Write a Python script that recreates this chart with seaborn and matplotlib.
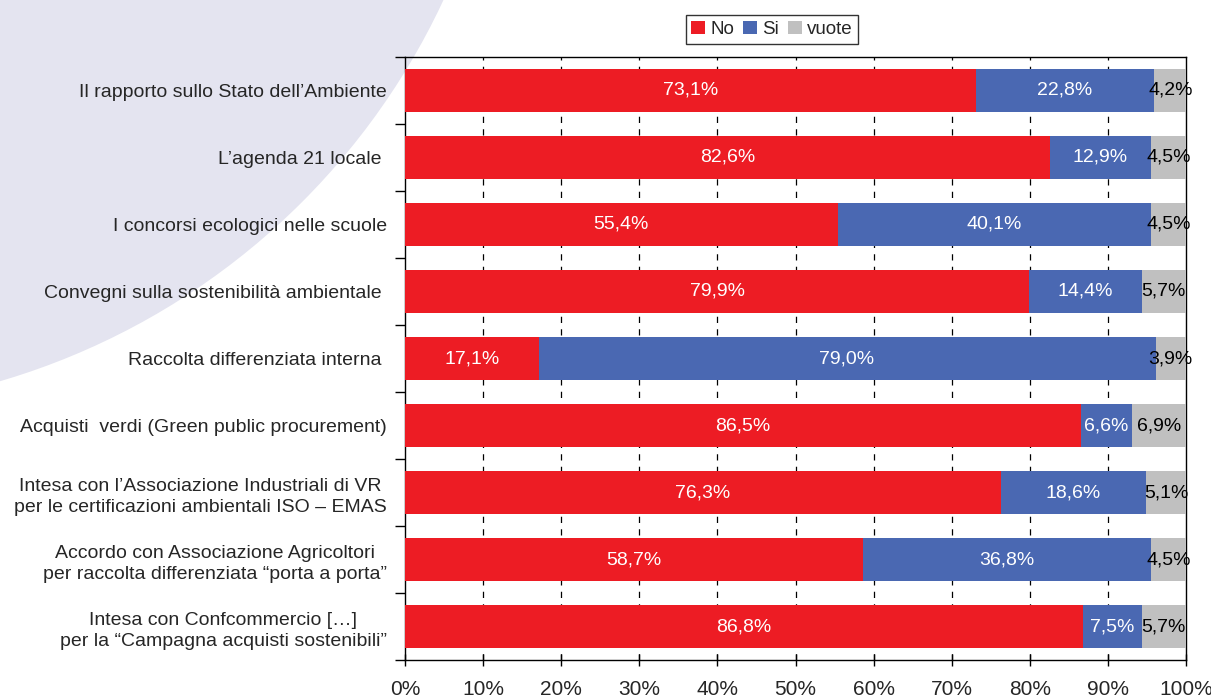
import matplotlib
matplotlib.use("Agg")
import matplotlib.pyplot as plt
from matplotlib.patches import Circle, Patch
from matplotlib.ticker import FixedLocator, FuncFormatter
import seaborn as sns
import numpy as np
import pandas as pd

categories = [
    "Il rapporto sullo Stato dell\u2019Ambiente",
    "L\u2019agenda 21 locale ",
    "I concorsi ecologici nelle scuole",
    "Convegni sulla sostenibilit\u00e0 ambientale ",
    "Raccolta differenziata interna ",
    "Acquisti  verdi (Green public procurement)",
    "Intesa con l\u2019Associazione Industriali di VR\nper le certificazioni ambientali ISO \u2013 EMAS",
    "Accordo con Associazione Agricoltori\nper raccolta differenziata \u201cporta a porta\u201d",
    "Intesa con Confcommercio [\u2026]\nper la \u201cCampagna acquisti sostenibili\u201d",
]
no_vals = [73.1, 82.6, 55.4, 79.9, 17.1, 86.5, 76.3, 58.7, 86.8]
si_vals = [22.8, 12.9, 40.1, 14.4, 79.0, 6.6, 18.6, 36.8, 7.5]
vuote_vals = [4.2, 4.5, 4.5, 5.7, 3.9, 6.9, 5.1, 4.5, 5.7]
series_names = ["No", "Si", "vuote"]
colors = {"No": "#ED1C24", "Si": "#4A68B2", "vuote": "#C0C0C0"}
xticks = [0, 10, 20, 30, 40, 50, 60, 70, 80, 90, 100]

sns.set_theme(style="white")
plt.rcParams["font.family"] = ["Liberation Sans", "DejaVu Sans"]

fig = plt.figure(figsize=(12.11, 7.0), dpi=100)
# decorative background circle (behind everything)
fig.patches.append(Circle((-2.0, 10.0), 7.1, transform=fig.dpi_scale_trans,
                          facecolor="#E4E4F0", edgecolor="none", zorder=-10))
ax = fig.add_axes([0.3344, 0.0571, 0.6450, 0.8615])
ax.set_zorder(1)
ax.set_facecolor("none")

df = pd.DataFrame({"cat": categories, "No": no_vals, "Si": si_vals, "vuote": vuote_vals})
df["c_no"] = df["No"]
df["c_si"] = df["No"] + df["Si"]
df["c_all"] = df["No"] + df["Si"] + df["vuote"]

for col, name in [("c_all", "vuote"), ("c_si", "Si"), ("c_no", "No")]:
    sns.barplot(data=df, y="cat", x=col, color=colors[name], orient="h",
                width=0.63, ax=ax, saturation=1, edgecolor="none", linewidth=0,
                zorder=3)

fmt = lambda v: f"{v:.1f}".replace(".", ",") + "%"
fs = 14
for i, r in df.iterrows():
    ax.text(r["No"] / 2, i, fmt(r["No"]), ha="center", va="center", color="white", fontsize=fs, zorder=5)
    ax.text(r["No"] + r["Si"] / 2, i, fmt(r["Si"]), ha="center", va="center", color="white", fontsize=fs, zorder=5)
    ax.text(r["c_si"] + r["vuote"] / 2, i, fmt(r["vuote"]), ha="center", va="center", color="black", fontsize=fs, zorder=5)

ax.set_xlim(0, 100)
ax.set_ylim(len(categories) - 0.5, -0.5)
ax.set_xlabel("")
ax.set_ylabel("")
ax.xaxis.set_major_locator(FixedLocator(xticks))
ax.xaxis.set_major_formatter(FuncFormatter(lambda v, p: f"{int(v)}%"))
ax.set_yticks(range(len(categories)))
ax.set_yticklabels(categories, linespacing=1.35, multialignment="center")
ax.yaxis.set_minor_locator(FixedLocator(np.arange(-0.5, len(categories), 1.0)))
ax.tick_params(axis="x", which="major", direction="inout", length=9, width=1, color="black",
               labelsize=15, pad=10, bottom=True)
ax.tick_params(axis="y", which="major", length=0, labelsize=14, pad=13, left=True)
ax.tick_params(axis="y", which="minor", direction="out", length=7, width=1, color="black", left=True)

for v in xticks[1:-1]:
    ax.axvline(v, color="black", linestyle=(0, (5, 5)), linewidth=0.9, zorder=1)

for s in ax.spines.values():
    s.set_visible(True)
    s.set_color("black")
    s.set_linewidth(1.0)
ax.grid(False)

handles = [Patch(facecolor=colors[n], edgecolor="none", label=n) for n in series_names]
leg = fig.legend(handles=handles, loc="center", bbox_to_anchor=(0.6375, 0.958), ncol=3,
                 fontsize=13.5, frameon=True, handlelength=0.75, handleheight=0.75,
                 handletextpad=0.25, columnspacing=0.5, borderpad=0.3, fancybox=False,
                 borderaxespad=0)
leg.get_frame().set_edgecolor("black")
leg.get_frame().set_linewidth(1.0)

fig.savefig("out.png", dpi=100)
